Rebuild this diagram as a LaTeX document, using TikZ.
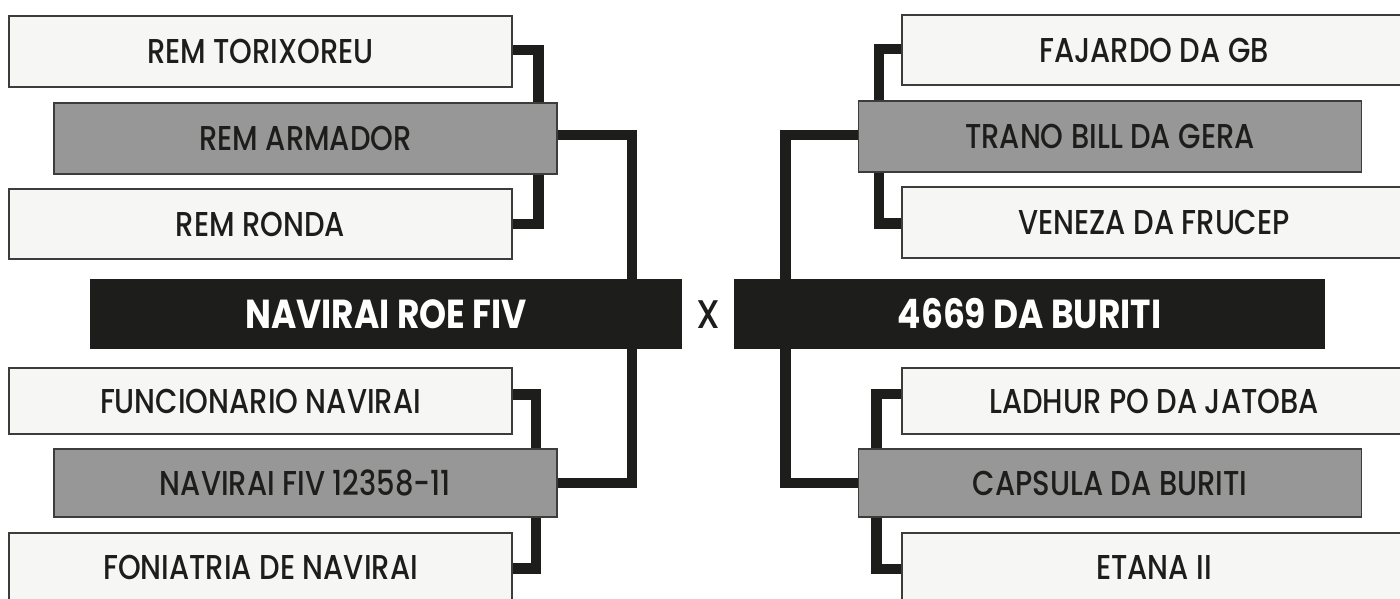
\documentclass[tikz,border=0pt]{standalone}
\usepackage{fontspec}
\newfontfamily\boxfont{Poppins Medium}[FakeStretch=0.84]
\newfontfamily\titlefont{Poppins Bold}[FakeStretch=0.85]
\newfontfamily\vsfont{Poppins Medium}[FakeStretch=0.9]
\definecolor{lightbox}{HTML}{F6F6F4}
\definecolor{midbox}{HTML}{979797}
\definecolor{darkbox}{HTML}{1D1D1B}
\definecolor{boxline}{HTML}{3C3C3A}
\tikzset{
  teambox/.style={draw=boxline, line width=1.3pt, fill=lightbox, inner sep=0pt,
    minimum width=503pt, text=darkbox, font=\boxfont\fontsize{34.5}{34.5}\selectfont},
  winbox/.style={teambox, fill=midbox},
  ghost/.style={draw=none, fill=none, text opacity=0},
  finalbox/.style={draw=none, fill=darkbox, inner sep=0pt, minimum width=592pt,
    minimum height=70pt, text=white, font=\titlefont\fontsize{40.5}{40.5}\selectfont},
  link/.style={draw=darkbox, line width=10.5pt, line join=miter}
}
\begin{document}
\begin{tikzpicture}[x=1pt,y=-1pt]
\useasboundingbox (0,0) rectangle (1400,599);
\clip (0,0) rectangle (1400,599);
\fill[white] (0,0) rectangle (1400,599);
% connector columns
\coordinate (cLa) at (538.5,0);
\coordinate (cLb) at (536,0);
\coordinate (cLm) at (632,0);
\coordinate (cRa) at (879,0);
\coordinate (cRb) at (876.5,0);
\coordinate (cRm) at (785.5,0);
% node placement (named, empty) for connectors
\path
  node[teambox, minimum height=71pt, ghost] (t1) at (260.5,51.5) {}
  node[teambox, minimum height=71pt, ghost] (t2) at (305.5,138.5) {}
  node[teambox, minimum height=70pt, ghost] (t3) at (260.5,224) {}
  node[finalbox, fill=none] (fl) at (386,314) {}
  node[teambox, minimum height=66pt, ghost] (b1) at (260.5,401) {}
  node[teambox, minimum height=68pt, ghost] (b2) at (305.5,483) {}
  node[teambox, minimum height=68pt, ghost] (b3) at (260.5,567) {}
  node[teambox, minimum width=504pt, minimum height=70pt, ghost] (r1) at (1154,50) {}
  node[teambox, minimum height=71pt, ghost] (r2) at (1110,136.5) {}
  node[teambox, minimum width=504pt, minimum height=71pt, ghost] (r3) at (1154,222.5) {}
  node[finalbox, minimum width=591pt, fill=none] (fr) at (1029.5,314) {}
  node[teambox, minimum width=504pt, minimum height=66pt, ghost] (r4) at (1154,401) {}
  node[teambox, minimum height=68pt, ghost] (r5) at (1110,483) {}
  node[teambox, minimum width=504pt, minimum height=68pt, ghost] (r6) at (1154,567) {};
% connectors
\draw[link] ([yshift=1.5pt]t1.east) -| (cLa |- t2.north);
\draw[link] (cLa |- t2.south) |- (t3.east);
\draw[link] ([yshift=6.5pt]b1.east) -| (cLb |- b2.north);
\draw[link] (cLb |- b2.south) |- ([yshift=-1.5pt]b3.east);
\draw[link] ([yshift=3.5pt]t2.east) -| (cLm |- b2.east) -- (b2.east);
\draw[link] ([yshift=1pt]r1.west) -| (cRa |- r2.north);
\draw[link] (cRa |- r2.south) |- ([yshift=-1pt]r3.west);
\draw[link] ([yshift=7pt]r4.west) -| (cRb |- r5.north);
\draw[link] (cRb |- r5.south) |- ([yshift=-2pt]r6.west);
\draw[link] ([yshift=1.5pt]r2.west) -| (cRm |- r5.west) -- (r5.west);
% boxes
\node[teambox, minimum height=71pt] at (t1) {REM TORIXOREU};
\node[winbox, minimum height=71pt] at (t2) {REM ARMADOR};
\node[teambox, minimum height=70pt] at (t3) {REM RONDA};
\node[finalbox] at (fl) {NAVIRAI ROE FIV};
\node[teambox, minimum height=66pt] at (b1) {FUNCIONARIO NAVIRAI};
\node[winbox, minimum height=68pt] at (b2) {NAVIRAI FIV 12358-11};
\node[teambox, minimum height=68pt] at (b3) {FONIATRIA DE NAVIRAI};
\node[teambox, minimum width=504pt, minimum height=70pt] at (r1) {FAJARDO DA GB};
\node[winbox, minimum height=71pt] at (r2) {TRANO BILL DA GERA};
\node[teambox, minimum width=504pt, minimum height=71pt] at (r3) {VENEZA DA FRUCEP};
\node[finalbox, minimum width=591pt] at (fr) {4669 DA BURITI};
\node[teambox, minimum width=504pt, minimum height=66pt] at (r4) {LADHUR PO DA JATOBA};
\node[winbox, minimum height=68pt] at (r5) {CAPSULA DA BURITI};
\node[teambox, minimum width=504pt, minimum height=68pt] at (r6) {ETANA II};
\node[text=darkbox, font=\vsfont\fontsize{40}{40}\selectfont, inner sep=0pt] (vs) at (708,315) {X};
\end{tikzpicture}
\end{document}
